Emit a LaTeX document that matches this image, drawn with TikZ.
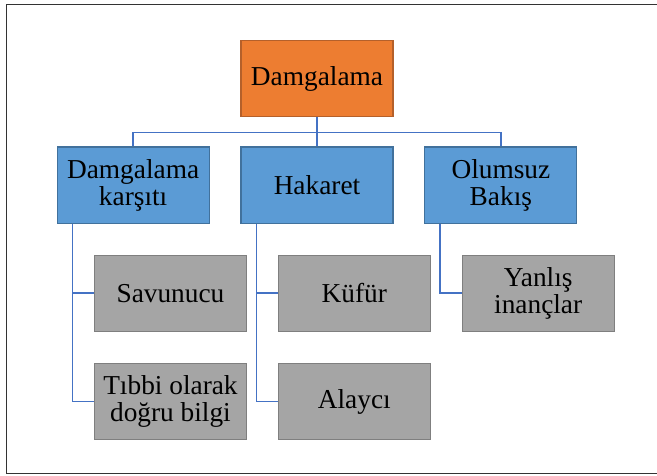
\documentclass[tikz,border=0pt]{standalone}
\usepackage{fontspec}
\setmainfont{Liberation Serif}
\newfontfamily\boxfont{Liberation Serif}
\usetikzlibrary{positioning}
\definecolor{orng}{HTML}{ED7D31}
\definecolor{orngline}{HTML}{B5602A}
\definecolor{blu}{HTML}{5B9BD5}
\definecolor{bluline}{HTML}{41719C}
\definecolor{gry}{HTML}{A5A5A5}
\definecolor{gryline}{HTML}{7F7F7F}
\definecolor{link}{HTML}{4472C4}
\tikzset{
  box/.style = {draw, line width=0.9pt, minimum width=114pt, minimum height=57.5pt,
    inner sep=2pt, align=center, font=\boxfont\fontsize{20.5}{20.25}\selectfont},
  top/.style = {box, fill=orng, draw=orngline},
  mid/.style = {box, fill=blu, draw=bluline},
  leaf/.style = {box, fill=gry, draw=gryline, minimum height=57pt},
  link/.style = {draw=link, line width=1.3pt},
}
\begin{document}
\begin{tikzpicture}
  \useasboundingbox (0,0) rectangle (492.75pt,-356.25pt);
  % frame
  \draw[black!80, line width=1pt] (492.75pt,-3.2pt) -- (4.8pt,-3.2pt) -- (4.8pt,-355.3pt) -- (492.75pt,-355.3pt);
  \node[top] (dam) at (237.75pt,-58.9pt) {Damgalama};
  \node[mid] (hak) [below=21.75pt of dam] {Hakaret};
  \node[mid] (kar) [left=23pt of hak] {Damgalama\\karşıtı};
  \node[mid] (olu) [right=23pt of hak] {Olumsuz\\Bakış};
  \node[leaf] (sav) [below right=22.75pt and 28pt of kar.south west] {Savunucu};
  \node[leaf] (tib) [below=23.25pt of sav] {Tıbbi olarak\\doğru bilgi};
  \node[leaf] (kuf) [below right=22.75pt and 28pt of hak.south west] {Küfür};
  \node[leaf] (ala) [below=23.25pt of kuf] {Alaycı};
  \node[leaf] (yan) [below right=22.75pt and 28pt of olu.south west] {Yanlış\\inançlar};
  \draw[link] (dam) -- (hak);
  \draw[link] (dam.south) -- ++(0,-11.25pt) -| (kar.north);
  \draw[link] (dam.south) -- ++(0,-11.25pt) -| (olu.north);
  \draw[link] ([xshift=12pt]kar.south west) |- (sav.west);
  \draw[link] ([xshift=12pt]kar.south west) |- (tib.west);
  \draw[link] ([xshift=12pt]hak.south west) |- (kuf.west);
  \draw[link] ([xshift=12pt]hak.south west) |- (ala.west);
  \draw[link] ([xshift=12pt]olu.south west) |- (yan.west);
\end{tikzpicture}
\end{document}
